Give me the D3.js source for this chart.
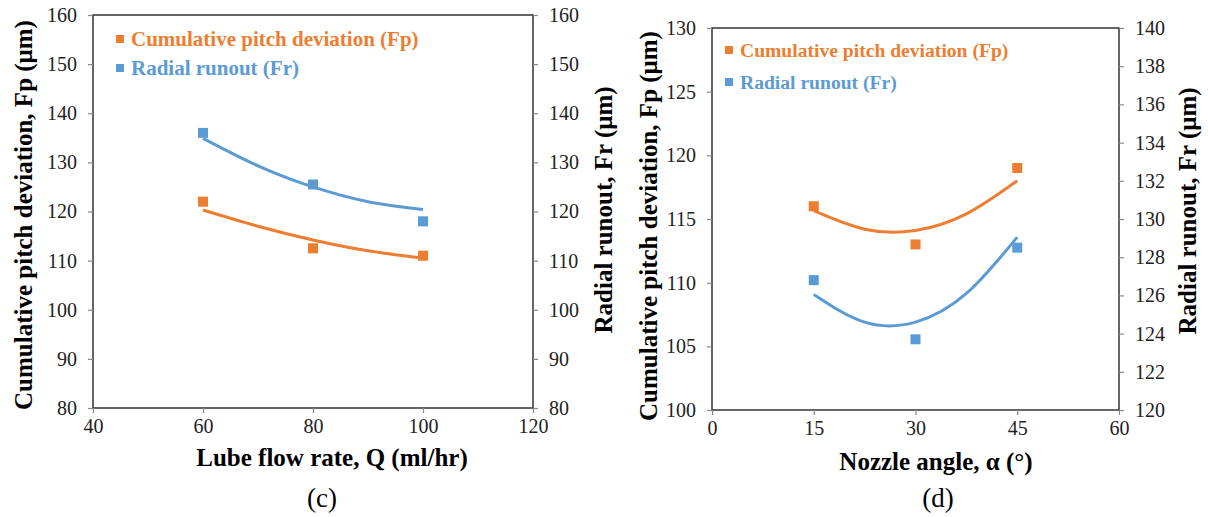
<!DOCTYPE html>
<html>
<head>
<meta charset="utf-8">
<script src="https://cdn.jsdelivr.net/npm/d3@7"></script>
<style>
  body { margin: 0; background: #fff; }
</style>
</head>
<body>
<div id="viz"></div>
<script>
// ---- data ----
// (c) lube flow rate
var flowRate = [60, 80, 100];
var fpFlow = [122, 112.5, 111];
var frFlow = [136, 125.5, 118];
var flowTrendX = [60, 70, 80, 90, 100];
var fpFlowTrend = [120.3, 117.0, 114.2, 112.0, 110.5];
var frFlowTrend = [134.9, 129.3, 125.0, 122.0, 120.4];
var flowTicks = [40, 60, 80, 100, 120];
var flowFpTicks = [80, 90, 100, 110, 120, 130, 140, 150, 160];
var flowFrTicks = [80, 90, 100, 110, 120, 130, 140, 150, 160];

// (d) nozzle angle
var nozzleAngle = [15, 30, 45];
var fpNozzle = [116, 113, 119];
var frNozzle = [126.8, 123.7, 128.5];
var nozzleTrendX = [15, 22.5, 30, 37.5, 45];
var fpNozzleTrend = [115.65, 114.2, 114.1, 115.4, 118.0];
var frNozzleTrend = [126.05, 124.6, 124.6, 126.1, 129.05];
var nozzleTicks = [0, 15, 30, 45, 60];
var nozzleFpTicks = [100, 105, 110, 115, 120, 125, 130];
var nozzleFrTicks = [120, 122, 124, 126, 128, 130, 132, 134, 136, 138, 140];

var seriesNames = ["Cumulative pitch deviation (Fp)", "Radial runout (Fr)"];
var orange = "#ED7D31", blue = "#5B9BD5";
var serif = "Liberation Serif";

var svg = d3.select("#viz")
  .append("svg")
  .attr("width", 1208)
  .attr("height", 517);

function zip(xs, ys) {
  return xs.map(function(x, i) { return {x: x, y: ys[i]}; });
}

function label(sel, size, bold) {
  sel.style("font-family", serif).style("font-size", size + "px")
    .style("font-weight", bold ? "bold" : "normal");
}

function drawPanel(p) {
  var x = d3.scaleLinear().domain(d3.extent(p.xTicks)).range([p.left, p.right]);
  var yL = d3.scaleLinear().domain(d3.extent(p.yLTicks)).range([p.bottom, p.top]);
  var yR = d3.scaleLinear().domain(d3.extent(p.yRTicks)).range([p.bottom, p.top]);

  var g = svg.append("g");

  // frame
  g.append("rect")
    .attr("x", p.left).attr("y", p.top)
    .attr("width", p.right - p.left).attr("height", p.bottom - p.top)
    .attr("fill", "none").attr("stroke", "#333").attr("stroke-width", 1.5);

  function styleAxis(a) {
    a.select(".domain").remove();
    a.selectAll(".tick line").attr("stroke", "#888").attr("stroke-width", 1.2);
    a.selectAll(".tick text").attr("fill", "#222").call(label, 20, false);
  }

  g.append("g")
    .attr("transform", "translate(0," + p.bottom + ")")
    .call(d3.axisBottom(x).tickValues(p.xTicks).tickSize(5).tickPadding(6))
    .call(styleAxis);
  g.append("g")
    .attr("transform", "translate(" + p.left + ",0)")
    .call(d3.axisLeft(yL).tickValues(p.yLTicks).tickSize(5).tickPadding(11))
    .call(styleAxis);
  g.append("g")
    .attr("transform", "translate(" + p.right + ",0)")
    .call(d3.axisRight(yR).tickValues(p.yRTicks).tickSize(5).tickPadding(11))
    .call(styleAxis);

  var line = function(ys) {
    return d3.line().curve(d3.curveNatural)
      .x(function(d) { return x(d.x); })
      .y(function(d) { return ys(d.y); });
  };

  // trend lines
  g.append("path").datum(zip(p.trendX, p.fpTrend))
    .attr("fill", "none").attr("stroke", orange).attr("stroke-width", 3)
    .attr("d", line(yL));
  g.append("path").datum(zip(p.trendX, p.frTrend))
    .attr("fill", "none").attr("stroke", blue).attr("stroke-width", 3)
    .attr("d", line(yR));

  // markers
  var ms = 10;
  g.selectAll(".fp").data(zip(p.xs, p.fp)).enter().append("rect")
    .attr("x", function(d) { return x(d.x) - ms / 2; })
    .attr("y", function(d) { return yL(d.y) - ms / 2; })
    .attr("width", ms).attr("height", ms).attr("fill", orange);
  g.selectAll(".fr").data(zip(p.xs, p.fr)).enter().append("rect")
    .attr("x", function(d) { return x(d.x) - ms / 2; })
    .attr("y", function(d) { return yR(d.y) - ms / 2; })
    .attr("width", ms).attr("height", ms).attr("fill", blue);

  // legend
  [orange, blue].forEach(function(c, i) {
    var ly = p.legendY[i];
    g.append("rect").attr("x", p.legendX).attr("y", ly - 4)
      .attr("width", 8).attr("height", 8).attr("fill", c);
    g.append("text").attr("x", p.legendX + 15).attr("y", ly)
      .attr("dy", "0.35em").attr("fill", c)
      .call(label, p.legendSize, true)
      .text(seriesNames[i]);
  });

  // axis titles
  g.append("text")
    .attr("x", p.xTitleX).attr("y", p.xTitleY)
    .attr("dy", "0.35em").attr("text-anchor", "middle")
    .call(label, 25, true)
    .text(p.xTitle);
  g.append("text")
    .attr("transform", "translate(" + p.yLTitleX + "," + p.yLTitleY + ") rotate(-90)")
    .attr("dy", "0.35em").attr("text-anchor", "middle")
    .call(label, 25, true)
    .text("Cumulative pitch deviation, Fp (\u03bcm)");
  g.append("text")
    .attr("transform", "translate(" + p.yRTitleX + "," + p.yRTitleY + ") rotate(-90)")
    .attr("dy", "0.35em").attr("text-anchor", "middle")
    .call(label, 25, true)
    .text("Radial runout, Fr (\u03bcm)");

  // panel label
  g.append("text")
    .attr("x", p.labelX).attr("y", 498)
    .attr("dy", "0.35em").attr("text-anchor", "middle")
    .call(label, 27, false)
    .text(p.label);
}

drawPanel({
  left: 93, right: 533, top: 15, bottom: 408,
  xTicks: flowTicks, yLTicks: flowFpTicks, yRTicks: flowFrTicks,
  xs: flowRate, fp: fpFlow, fr: frFlow,
  trendX: flowTrendX, fpTrend: fpFlowTrend, frTrend: frFlowTrend,
  legendX: 116, legendY: [39, 68], legendSize: 21,
  xTitle: "Lube flow rate, Q (ml/hr)", xTitleX: 332, xTitleY: 457,
  yLTitleX: 23, yLTitleY: 215, yRTitleX: 603, yRTitleY: 210,
  label: "(c)", labelX: 322
});

drawPanel({
  left: 712, right: 1119, top: 28, bottom: 410,
  xTicks: nozzleTicks, yLTicks: nozzleFpTicks, yRTicks: nozzleFrTicks,
  xs: nozzleAngle, fp: fpNozzle, fr: frNozzle,
  trendX: nozzleTrendX, fpTrend: fpNozzleTrend, frTrend: frNozzleTrend,
  legendX: 725, legendY: [50, 82], legendSize: 19.6,
  xTitle: "Nozzle angle, \u03b1 (\u00b0)", xTitleX: 936, xTitleY: 461,
  yLTitleX: 648, yLTitleY: 226, yRTitleX: 1187, yRTitleY: 211,
  label: "(d)", labelX: 938
});
</script>
</body>
</html>
